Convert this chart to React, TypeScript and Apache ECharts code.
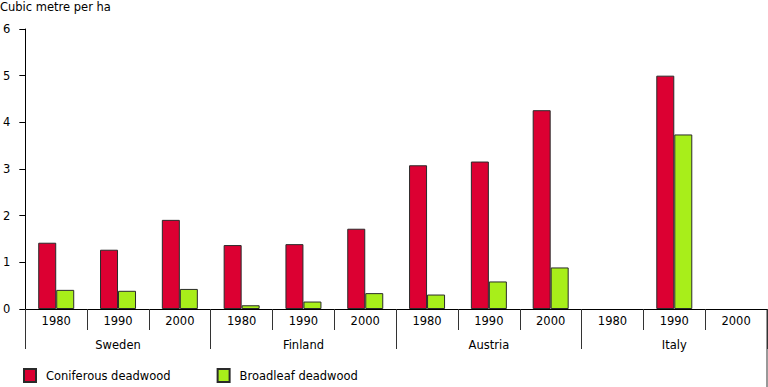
import React, { useEffect, useRef } from "react";
import * as echarts from "echarts";

const countries = ["Sweden", "Finland", "Austria", "Italy"];
const years = ["1980", "1990", "2000"];
const yearLabels = countries.flatMap(() => years);
const coniferous: (number | null)[] = [1.42, 1.27, 1.91, 1.37, 1.39, 1.72, 3.08, 3.16, 4.26, null, 5.0, null];
const broadleaf: (number | null)[] = [0.41, 0.39, 0.43, 0.08, 0.16, 0.34, 0.31, 0.59, 0.89, null, 3.74, null];
const yTicks = { min: 0, max: 6, interval: 1 };

const FONT = "DejaVu Sans, Verdana, sans-serif";
const FS = 11.5;
const RED = "#DC0032";
const GREEN = "#A8EE1A";
const BORDER = "#2a2a2a";

export default function App() {
  const ref = useRef<HTMLDivElement>(null);
  useEffect(() => {
    if (!ref.current) return;
    const chart = echarts.init(ref.current, undefined, { renderer: "svg" });
    chart.setOption({
      animation: false,
      backgroundColor: "#fff",
      textStyle: { fontFamily: FONT, color: "#000" },
      title: {
        text: "Cubic metre per ha",
        left: 0,
        top: 1,
        padding: 0,
        textStyle: { fontSize: FS, fontWeight: "normal", color: "#000", fontFamily: FONT },
      },
      grid: { left: 23, right: 1, top: 29, bottom: 78, containLabel: false },
      legend: {
        left: 23,
        top: 368,
        padding: 0,
        icon: "rect",
        itemWidth: 12,
        itemHeight: 13,
        itemGap: 46,
        textStyle: { fontSize: FS, color: "#000", fontFamily: FONT, padding: [0, 0, 0, 5] },
        data: ["Coniferous deadwood", "Broadleaf deadwood"],
      },
      xAxis: [
        {
          type: "category",
          data: yearLabels,
          position: "bottom",
          axisLine: { show: true, lineStyle: { color: "#000", width: 1 } },
          axisTick: { show: true, interval: 0, length: 21, lineStyle: { color: "#333" } },
          axisLabel: { interval: 0, margin: 6, fontSize: FS, color: "#000", fontFamily: FONT },
        },
        {
          type: "category",
          data: countries,
          position: "bottom",
          axisLine: { show: false },
          axisTick: { show: true, interval: 0, length: 40, lineStyle: { color: "#333" } },
          axisLabel: { interval: 0, margin: 30, fontSize: FS, color: "#000", fontFamily: FONT },
        },
      ],
      yAxis: {
        type: "value",
        min: yTicks.min,
        max: yTicks.max,
        interval: yTicks.interval,
        axisLine: { show: true, lineStyle: { color: "#000", width: 1 } },
        axisTick: { show: true, length: 6, lineStyle: { color: "#000" } },
        splitLine: { show: false },
        axisLabel: { margin: 15, fontSize: FS, color: "#000", fontFamily: FONT },
      },
      graphic: [
        {
          type: "line",
          shape: { x1: 767, y1: 309, x2: 767, y2: 387 },
          style: { stroke: "#333", lineWidth: 1 },
        },
      ],
      series: [
        {
          name: "Coniferous deadwood",
          type: "bar",
          data: coniferous,
          barWidth: 18,
          barGap: "0%",
          itemStyle: { color: RED, borderColor: BORDER, borderWidth: 1 },
        },
        {
          name: "Broadleaf deadwood",
          type: "bar",
          data: broadleaf,
          barWidth: 18,
          barGap: "0%",
          itemStyle: { color: GREEN, borderColor: BORDER, borderWidth: 1 },
        },
      ],
    });
    return () => chart.dispose();
  }, []);
  return (
    <div
      ref={ref}
      style={{ position: "fixed", left: 0, top: 0, width: 768, height: 387 }}
    />
  );
}
